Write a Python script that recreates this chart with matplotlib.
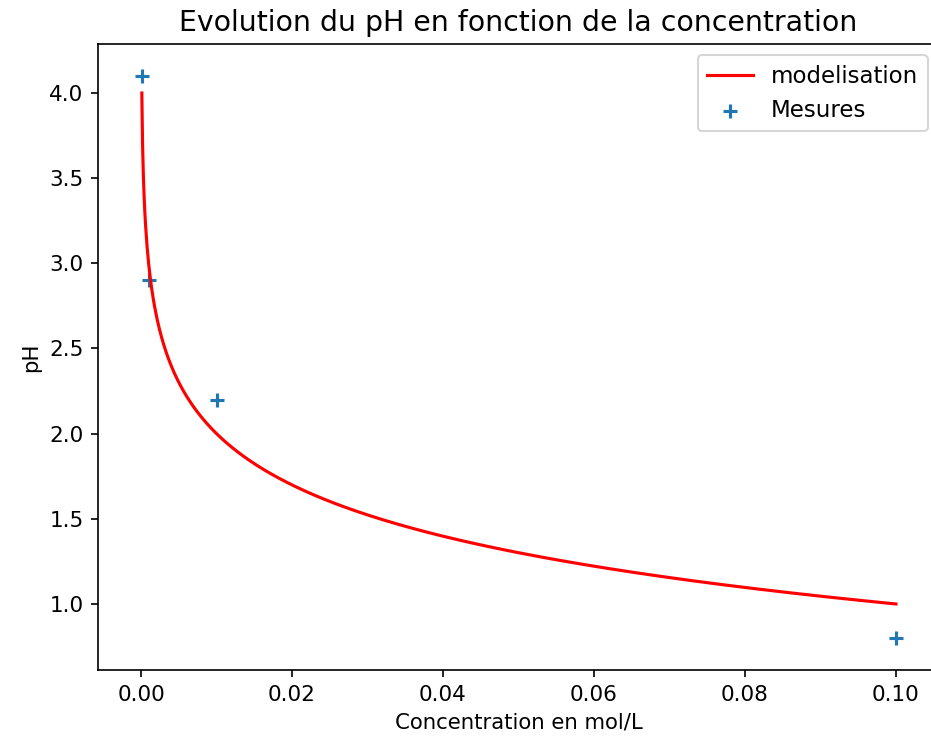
import matplotlib
matplotlib.use("Agg")
import matplotlib.pyplot as plt
import numpy as np

# mesures
conc_mes = [0.0001, 0.001, 0.01, 0.1]
ph_mes = [4.1, 2.9, 2.2, 0.8]

# modelisation pH = -log(c)
conc_mod = np.linspace(0.0001, 0.1, 1000)
ph_mod = -np.log10(conc_mod)

fig = plt.figure(figsize=(931 / 150, 744 / 150), dpi=150)
# axes runs a bit past the right edge (picture is cropped there)
ax = fig.add_axes([0.1053, 0.0995, 0.9033, 0.8414])
ax.plot(conc_mod, ph_mod, 'r', label='modelisation')
ax.scatter(conc_mes, ph_mes, marker='+', s=45, label='Mesures')
ax.set_xlim(-0.0057, 0.1057)
ax.set_ylim(0.6125, 4.288)
ax.tick_params(labelsize=10.3)
ax.set_title('Evolution du pH en fonction de la concentration', fontsize=13.6)
ax.set_xlabel('Concentration en mol/L', fontsize=10.2)
ax.set_ylabel('pH', fontsize=10.2)
ax.legend(fontsize=11, loc='upper right')
plt.savefig('out.png', dpi=150)
